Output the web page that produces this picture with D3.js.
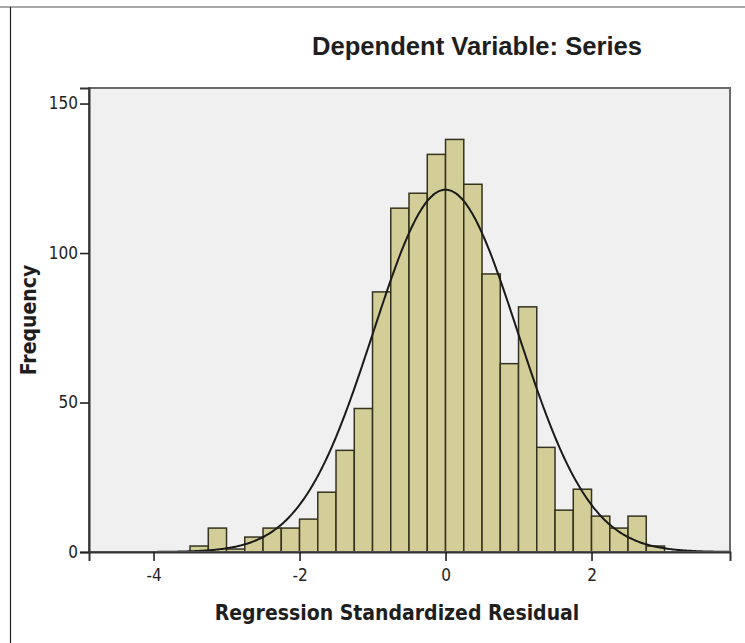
<!DOCTYPE html>
<html>
<head>
<meta charset="utf-8">
<script src="https://cdn.jsdelivr.net/npm/d3@7"></script>
<style>
  html, body { margin: 0; padding: 0; background: #ffffff; }
  svg { display: block; }
</style>
</head>
<body>
<svg id="chart" width="745" height="643"></svg>
<script>
// ---- data ----
const binStarts = [-3.5, -3.25, -3.0, -2.75, -2.5, -2.25, -2.0, -1.75, -1.5, -1.25,
                   -1.0, -0.75, -0.5, -0.25, 0.0, 0.25, 0.5, 0.75, 1.0, 1.25,
                   1.5, 1.75, 2.0, 2.25, 2.5, 2.75];
const counts    = [2, 8, 1, 5, 8, 8, 11, 20, 34, 48,
                   87, 115, 120, 133, 138, 123, 93, 63, 82, 35,
                   14, 21, 12, 8, 12, 2];
const binWidth = 0.25;
const residualMean = 0.0;
const residualStdDev = 0.99;
const xTicks = [-4, -2, 0, 2];
const yTicks = [0, 50, 100, 150];
const titleText = "Dependent Variable: Series";
const xLabelText = "Regression Standardized Residual";
const yLabelText = "Frequency";

// ---- layout ----
const W = 745, H = 643;
const plot = { left: 89, right: 730, top: 88, bottom: 552 };
const svg = d3.select("#chart");

const x = d3.scaleLinear().domain([-4.884, 3.897]).range([plot.left, plot.right]);
const y = d3.scaleLinear().domain([0, 155.2]).range([plot.bottom, plot.top]);

const labelFont = "'DejaVu Sans Condensed', 'DejaVu Sans', sans-serif";

// outer partial border (left + top)
svg.append("line").attr("x1", 0).attr("x2", W).attr("y1", 7).attr("y2", 7)
  .attr("stroke", "#8a8a8a").attr("stroke-width", 1.5);
svg.append("line").attr("x1", 10.5).attr("x2", 10.5).attr("y1", 7).attr("y2", H)
  .attr("stroke", "#222").attr("stroke-width", 1.2);

// plot background
svg.append("rect")
  .attr("x", plot.left).attr("y", plot.top)
  .attr("width", plot.right - plot.left).attr("height", plot.bottom - plot.top)
  .attr("fill", "#f0f0f0");

// bars
const data = binStarts.map((s, i) => ({ x0: s, x1: s + binWidth, n: counts[i] }));
svg.append("g").selectAll("rect").data(data.filter(d => d.n > 0)).join("rect")
  .attr("x", d => x(d.x0))
  .attr("y", d => y(d.n))
  .attr("width", d => x(d.x1) - x(d.x0))
  .attr("height", d => y(0) - y(d.n))
  .attr("fill", "#d3ce97")
  .attr("stroke", "#35321f")
  .attr("stroke-width", 1.5);

// normal curve
const N = d3.sum(counts);
const pdf = v => Math.exp(-0.5 * Math.pow((v - residualMean) / residualStdDev, 2)) /
                 (residualStdDev * Math.sqrt(2 * Math.PI));
const curvePts = d3.range(-4.0, 3.897, 0.02).concat([3.897]);
svg.append("path")
  .datum(curvePts)
  .attr("fill", "none")
  .attr("stroke", "#1a1a1a")
  .attr("stroke-width", 2)
  .attr("d", d3.line().x(v => x(v)).y(v => y(N * binWidth * pdf(v))).curve(d3.curveBasis));

// frame
svg.append("rect")
  .attr("x", plot.left).attr("y", plot.top)
  .attr("width", plot.right - plot.left).attr("height", plot.bottom - plot.top)
  .attr("fill", "none").attr("stroke", "#6a6a6a").attr("stroke-width", 2);

// axes
const xAxis = svg.append("g").attr("transform", `translate(0,${plot.bottom})`)
  .call(d3.axisBottom(x).tickValues(xTicks).tickSize(9).tickPadding(8).tickFormat(d3.format("d")));
const yAxis = svg.append("g").attr("transform", `translate(${plot.left},0)`)
  .call(d3.axisLeft(y).tickValues(yTicks).tickSize(9).tickPadding(2).tickFormat(d3.format("d")));
[xAxis, yAxis].forEach(g => {
  g.select(".domain").attr("stroke", "#333").attr("stroke-width", 2);
  g.selectAll(".tick line").attr("stroke", "#222").attr("stroke-width", 1.6);
  g.selectAll(".tick text")
    .attr("fill", "#222")
    .style("font-family", labelFont)
    .style("font-size", "17px");
});
xAxis.selectAll(".tick text").text(d => d < 0 ? "-" + Math.abs(d) : d);

// title
svg.append("text")
  .attr("x", 477).attr("y", 55)
  .attr("text-anchor", "middle")
  .style("font-family", "'Liberation Sans', Arial, sans-serif")
  .style("font-weight", "bold")
  .style("font-size", "25.6px")
  .attr("fill", "#1e1e1e")
  .text(titleText);

// x label
svg.append("text")
  .attr("x", 397).attr("y", 620)
  .attr("text-anchor", "middle")
  .style("font-family", labelFont)
  .style("font-weight", "bold")
  .style("font-size", "21px")
  .attr("fill", "#1e1e1e")
  .text(xLabelText);

// y label
svg.append("text")
  .attr("transform", "translate(36,320) rotate(-90)")
  .attr("text-anchor", "middle")
  .style("font-family", labelFont)
  .style("font-weight", "bold")
  .style("font-size", "21px")
  .attr("fill", "#1e1e1e")
  .text(yLabelText);
</script>
</body>
</html>
